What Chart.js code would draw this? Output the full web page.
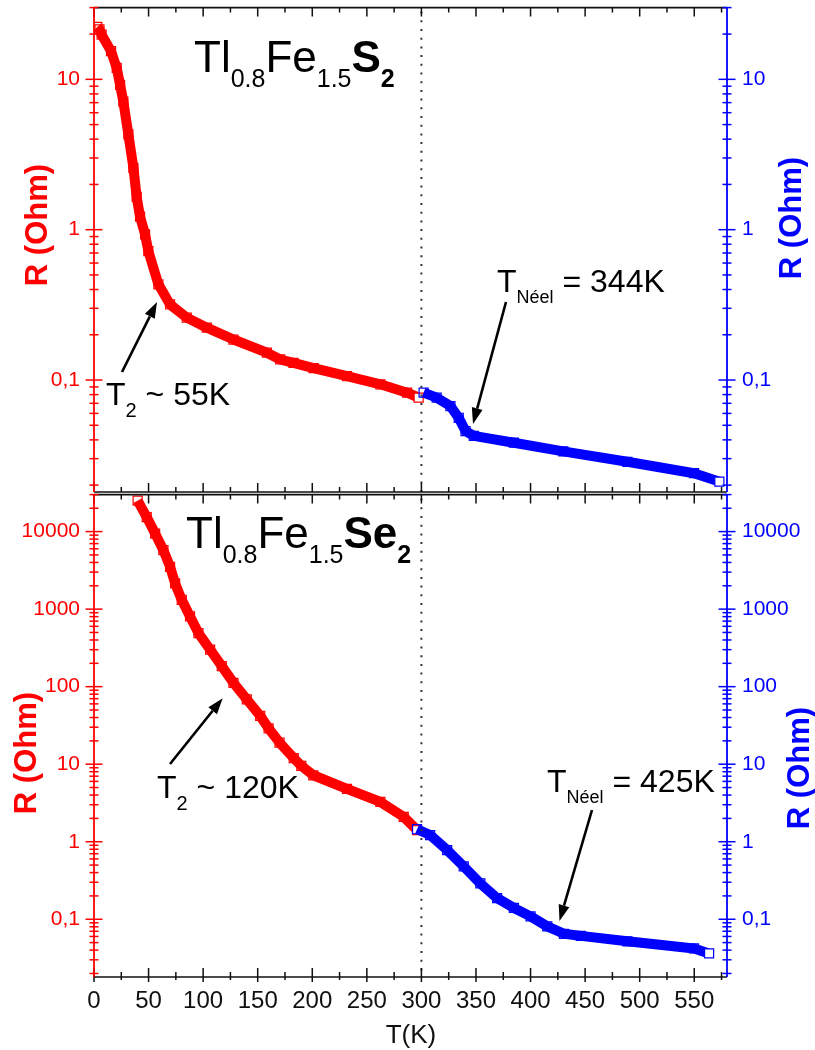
<!DOCTYPE html>
<html>
<head>
<meta charset="utf-8">
<script src="https://cdn.jsdelivr.net/npm/chart.js@4.4.0/dist/chart.umd.min.js"></script>
<style>
  html, body { margin: 0; padding: 0; background: #fff; }
  #wrap { position: relative; width: 815px; height: 1050px; }
  #topChart { position: absolute; left: 0; top: 0; }
  #bottomChart { position: absolute; left: 0; top: 487px; }
</style>
</head>
<body>
<div id="wrap">
  <canvas id="topChart" width="815" height="500"></canvas>
  <canvas id="bottomChart" width="815" height="563"></canvas>
</div>
<script>
// Tl0.8Fe1.5S2 - low temperature run (red, left axis)
const tempS_low = [3, 5, 7, 15.6, 20.8, 23.9, 26.9, 31.5, 36.1, 39.1, 42.2, 46.8, 49.8, 59, 69.7, 85, 103.4, 127.8, 158.4, 170.6, 182.8, 201.2, 231.8, 262.4, 286.9, 297.5];
const resS_low = [22.3, 21.5, 19.8, 15.4, 11.9, 9.2, 7.1, 4.3, 2.58, 1.65, 1.22, 0.93, 0.72, 0.433, 0.318, 0.26, 0.223, 0.186, 0.152, 0.137, 0.13, 0.12, 0.106, 0.0936, 0.0824, 0.0763];
// Tl0.8Fe1.5S2 - high temperature run (blue, right axis)
const tempS_high = [302, 314, 326.6, 334.2, 340.4, 348, 384.7, 430, 488.7, 549.8, 573];
const resS_high = [0.0824, 0.0763, 0.0671, 0.056, 0.0458, 0.0425, 0.0383, 0.0335, 0.0286, 0.024, 0.0211];

// Tl0.8Fe1.5Se2 - low temperature run
const tempSe_low = [40, 48.3, 56, 63.6, 69.7, 74.3, 80.4, 88, 95.7, 106.4, 117.1, 127.8, 140, 152.3, 160, 170, 183, 190, 201, 231.8, 262.4, 283.8, 296];
const resSe_low = [25100, 15400, 9420, 5760, 3520, 2150, 1320, 805, 492, 301, 184, 112, 68.7, 42, 29, 19, 12, 9.5, 7.2, 4.8, 3.26, 2.09, 1.41];
// Tl0.8Fe1.5Se2 - high temperature run
const tempSe_high = [296, 308, 323.6, 338.8, 354, 369.4, 384.7, 400, 415.3, 430.6, 446, 488.7, 549.8, 563.6];
const resSe_high = [1.45, 1.22, 0.78, 0.48, 0.29, 0.187, 0.14, 0.109, 0.081, 0.065, 0.061, 0.052, 0.042, 0.0363];

// axes
const xRange = [0, 580];
const xTickStep = 50;
const xMinorStep = 25;
const yRangeS = [0.018, 30];
const yRangeSe = [0.018, 30000];

const FONT = "'Liberation Sans', Arial, Helvetica, sans-serif";
const RED = '#ff0000';
const BLUE = '#0000ff';
const INK = '#111111';

function toPoints(xs, ys) {
  return xs.map((x, i) => ({ x: x, y: ys[i] }));
}

// only label the decades, with a decimal comma
function decadeLabel(value) {
  const l = Math.log10(value);
  const r = Math.round(l);
  if (Math.abs(l - r) > 1e-6) return '';
  if (r < 0) return '0,' + '0'.repeat(-r - 1) + '1';
  return String(Math.pow(10, r));
}

function runDataset(xs, ys, color, axis, order) {
  const last = xs.length - 1;
  return {
    data: toPoints(xs, ys),
    yAxisID: axis,
    showLine: true,
    borderColor: color,
    borderWidth: 10,
    borderJoinStyle: 'round',
    pointStyle: 'rect',
    pointRadius: 6.4,
    pointBorderWidth: 1.2,
    pointBorderColor: color,
    pointBackgroundColor: ctx => (ctx.dataIndex === last ? '#ffffff' : 'rgba(0,0,0,0)'),
    clip: 0,
    order: order
  };
}

function noPad(s) {
  s.paddingTop = 0;
  s.paddingBottom = 0;
  s.paddingLeft = 0;
  s.paddingRight = 0;
}

function xScale(showLabels, height) {
  return {
    type: 'linear',
    position: 'bottom',
    min: xRange[0],
    max: xRange[1],
    grid: { display: false, drawTicks: false },
    border: { display: false },
    ticks: {
      display: showLabels,
      stepSize: xTickStep,
      autoSkip: false,
      maxRotation: 0,
      includeBounds: false,
      color: INK,
      font: { family: FONT, size: 24 },
      padding: 10,
      callback: v => (v % xTickStep === 0 ? String(v) : '')
    },
    afterFit: s => { s.height = height; noPad(s); }
  };
}

function yScale(pos, color, range) {
  return {
    type: 'logarithmic',
    position: pos,
    min: range[0],
    max: range[1],
    grid: { display: false, drawTicks: false },
    border: { display: false },
    ticks: {
      autoSkip: false,
      color: color,
      font: { family: FONT, size: 21 },
      padding: pos === 'left' ? 14 : 15,
      callback: decadeLabel
    },
    afterFit: s => { s.width = pos === 'left' ? 94 : 88; noPad(s); }
  };
}

// axis lines, inward ticks and the dotted 300 K line
const framePlugin = {
  id: 'frame',
  afterDraw(chart, args, opts) {
    const ctx = chart.ctx;
    const a = chart.chartArea;
    const xs = chart.scales.x;
    ctx.save();

    // dotted line at T = 300 K
    const x300 = xs.getPixelForValue(300);
    ctx.strokeStyle = '#333';
    ctx.lineWidth = 2;
    ctx.setLineDash([2, 6.7]);
    ctx.beginPath();
    ctx.moveTo(x300, a.top + 4);
    ctx.lineTo(x300, a.bottom);
    ctx.stroke();
    ctx.setLineDash([]);

    // x ticks
    ctx.strokeStyle = INK;
    ctx.lineWidth = 1.5;
    for (let v = xRange[0]; v < xRange[1]; v += xMinorStep) {
      const px = xs.getPixelForValue(v);
      const major = v % xTickStep === 0;
      const inLen = major ? 9 : 5;
      ctx.beginPath();
      ctx.moveTo(px, a.top);
      ctx.lineTo(px, a.top + inLen);
      ctx.moveTo(px, a.bottom - inLen);
      ctx.lineTo(px, a.bottom + (opts.bottomOut ? (major ? 5 : 3) : 0));
      ctx.stroke();
    }
    ctx.lineWidth = 1.6;
    ctx.beginPath();
    ctx.moveTo(a.left, a.top);
    ctx.lineTo(a.right, a.top);
    ctx.moveTo(a.left, a.bottom);
    ctx.lineTo(a.right, a.bottom);
    ctx.stroke();

    // y ticks, both sides of each axis
    [['yL', a.left, RED], ['yR', a.right, BLUE]].forEach(([id, ax, color]) => {
      const s = chart.scales[id];
      ctx.strokeStyle = color;
      ctx.lineWidth = 1.5;
      const d0 = Math.floor(Math.log10(s.min));
      const d1 = Math.ceil(Math.log10(s.max));
      for (let d = d0; d <= d1; d++) {
        for (let m = 1; m <= 9; m++) {
          const v = m * Math.pow(10, d);
          if (v < s.min * 0.999 || v > s.max * 1.001) continue;
          const py = s.getPixelForValue(v);
          const len = m === 1 ? 8.5 : 4.5;
          ctx.beginPath();
          ctx.moveTo(ax - len, py);
          ctx.lineTo(ax + len, py);
          ctx.stroke();
        }
      }
      ctx.lineWidth = 1.8;
      ctx.beginPath();
      ctx.moveTo(ax, a.top);
      ctx.lineTo(ax, a.bottom);
      ctx.stroke();
    });
    ctx.restore();
  }
};

function drawRuns(ctx, x, y, runs) {
  ctx.textAlign = 'left';
  ctx.textBaseline = 'alphabetic';
  runs.forEach(r => {
    ctx.font = (r[2] ? 'bold ' : '') + r[1] + 'px ' + FONT;
    ctx.fillText(r[0], x, y + r[3]);
    x += ctx.measureText(r[0]).width;
  });
}

function arrow(ctx, x0, y0, x1, y1) {
  const ang = Math.atan2(y1 - y0, x1 - x0);
  const hl = 16, hw = 5.5;
  const bx = x1 - hl * Math.cos(ang);
  const by = y1 - hl * Math.sin(ang);
  ctx.strokeStyle = '#000';
  ctx.fillStyle = '#000';
  ctx.lineWidth = 2.6;
  ctx.beginPath();
  ctx.moveTo(x0, y0);
  ctx.lineTo(bx, by);
  ctx.stroke();
  ctx.beginPath();
  ctx.moveTo(x1, y1);
  ctx.lineTo(bx - hw * Math.sin(ang), by + hw * Math.cos(ang));
  ctx.lineTo(bx + hw * Math.sin(ang), by - hw * Math.cos(ang));
  ctx.closePath();
  ctx.fill();
}

function yTitle(ctx, text, cx, cy, color) {
  ctx.save();
  ctx.translate(cx, cy);
  ctx.rotate(-Math.PI / 2);
  ctx.font = 'bold 31px ' + FONT;
  ctx.fillStyle = color;
  ctx.textAlign = 'center';
  ctx.textBaseline = 'middle';
  ctx.fillText(text, 0, 0);
  ctx.restore();
}

const topNotes = {
  id: 'topNotes',
  afterDraw(chart) {
    const ctx = chart.ctx;
    ctx.save();
    ctx.fillStyle = '#000';
    drawRuns(ctx, 194, 72, [['Tl', 44, false, 0], ['0.8', 25, false, 15], ['Fe', 44, false, 0], ['1.5', 25, false, 15], ['S', 44, true, 0], ['2', 25, true, 15]]);
    drawRuns(ctx, 106, 405, [['T', 32, false, 0], ['2', 20, false, 12], [' ~ 55K', 32, false, 0]]);
    drawRuns(ctx, 497, 292, [['T', 32, false, 0], ['Néel', 18, false, 11], [' = 344K', 32, false, 0]]);
    arrow(ctx, 122, 372, 157, 302);
    arrow(ctx, 506, 302, 473, 424);
    yTitle(ctx, 'R (Ohm)', 38, 225, RED);
    yTitle(ctx, 'R (Ohm)', 792, 218, BLUE);
    ctx.restore();
  }
};

const bottomNotes = {
  id: 'bottomNotes',
  afterDraw(chart) {
    const ctx = chart.ctx;
    ctx.save();
    ctx.fillStyle = '#000';
    drawRuns(ctx, 186, 61, [['Tl', 44, false, 0], ['0.8', 25, false, 15], ['Fe', 44, false, 0], ['1.5', 25, false, 15], ['Se', 44, true, 0], ['2', 25, true, 15]]);
    drawRuns(ctx, 157, 311, [['T', 32, false, 0], ['2', 20, false, 12], [' ~ 120K', 32, false, 0]]);
    drawRuns(ctx, 547, 305, [['T', 32, false, 0], ['Néel', 18, false, 11], [' = 425K', 32, false, 0]]);
    arrow(ctx, 170, 277, 222.7, 211.3);
    arrow(ctx, 592, 323, 559.5, 434);
    yTitle(ctx, 'R (Ohm)', 27, 266, RED);
    yTitle(ctx, 'R (Ohm)', 800, 281, BLUE);
    ctx.fillStyle = INK;
    ctx.font = '26px ' + FONT;
    ctx.textAlign = 'center';
    ctx.textBaseline = 'alphabetic';
    ctx.fillText('T(K)', 411, 556);
    ctx.restore();
  }
};

function baseOptions(padTop, xAxis, yRange, bottomOut) {
  return {
    responsive: false,
    animation: false,
    events: [],
    layout: { padding: { top: padTop, left: 0, right: 0, bottom: 0 } },
    plugins: {
      legend: { display: false },
      tooltip: { enabled: false },
      frame: { bottomOut: bottomOut }
    },
    scales: {
      x: xAxis,
      yL: yScale('left', RED, yRange),
      yR: yScale('right', BLUE, yRange)
    }
  };
}

document.addEventListener('DOMContentLoaded', () => {
  new Chart(document.getElementById('topChart').getContext('2d'), {
    type: 'scatter',
    data: {
      datasets: [
        runDataset(tempS_low, resS_low, RED, 'yL', 2),
        runDataset(tempS_high, resS_high, BLUE, 'yR', 1)
      ]
    },
    options: baseOptions(6, xScale(false, 8), yRangeS, false),
    plugins: [framePlugin, topNotes]
  });

  new Chart(document.getElementById('bottomChart').getContext('2d'), {
    type: 'scatter',
    data: {
      datasets: [
        runDataset(tempSe_low, resSe_low, RED, 'yL', 2),
        runDataset(tempSe_high, resSe_high, BLUE, 'yR', 1)
      ]
    },
    options: baseOptions(5, xScale(true, 73), yRangeSe, true),
    plugins: [framePlugin, bottomNotes]
  });
});
</script>
</body>
</html>
